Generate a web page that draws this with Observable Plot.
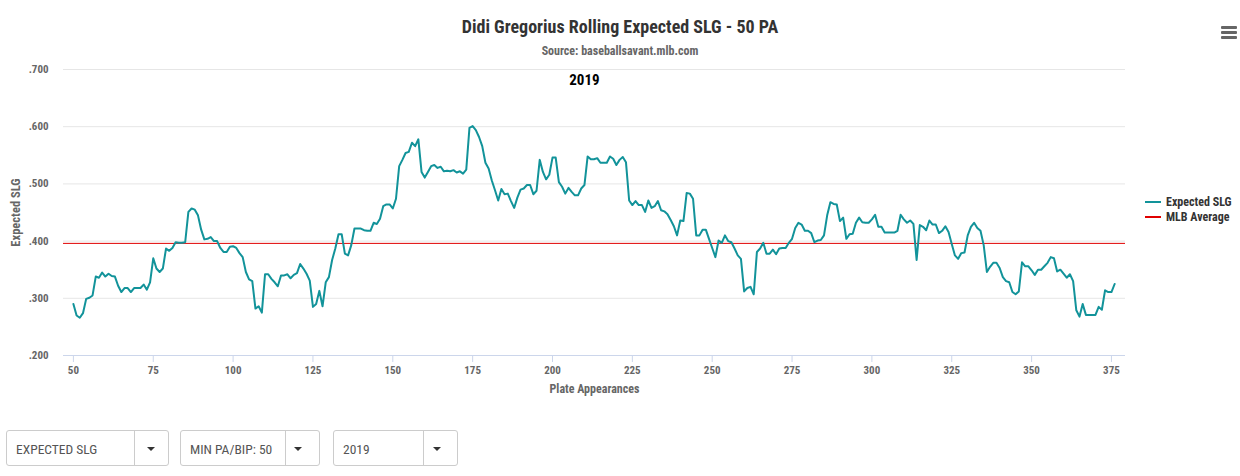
<!DOCTYPE html>
<html>
<head>
<meta charset="utf-8">
<script src="https://cdn.jsdelivr.net/npm/d3@7"></script>
<script src="https://cdn.jsdelivr.net/npm/@observablehq/plot@0.6"></script>
<style>
  html, body { margin: 0; padding: 0; background: #fff; }
  body { width: 1240px; height: 476px; overflow: hidden; }
  #wrap { position: relative; width: 1240px; height: 476px;
    font-family: "Roboto Condensed", "Liberation Sans Narrow", "DejaVu Sans Condensed", Roboto, sans-serif; font-stretch: condensed; }
  .abs { position: absolute; }
  #title { top: 16px; left: 0; width: 1240px; text-align: center; font-size: 18px; line-height: 21px; font-weight: bold; color: #333; }
  #subtitle { top: 44px; left: 0; width: 1240px; text-align: center; font-size: 12px; line-height: 14px; font-weight: bold; color: #666; }
  #chart { top: 58px; left: 0; }
  .leg { left: 1145px; font-size: 12px; font-weight: bold; color: #333; line-height: 14px; }
  .leg .sw { display: inline-block; width: 16px; height: 2px; vertical-align: middle; margin-right: 5px; position: relative; top: -1px; }
  #menu { left: 1221px; top: 26px; width: 16px; }
  #menu div { height: 2.5px; background: #666; margin-bottom: 2.5px; border-radius: 1px; }
  .sel { top: 430px; height: 36px; border: 1px solid #ccc; border-radius: 3px; box-sizing: border-box;
    font-size: 13.5px; color: #555; line-height: 36px; }
  .sel .lbl { position: absolute; left: 9px; top: 0; }
  .sel .div { position: absolute; top: 0; bottom: 0; border-left: 1px solid #ccc; }
  .sel .car { position: absolute; top: 16px; width: 0; height: 0; border-left: 4.5px solid transparent; border-right: 4.5px solid transparent; border-top: 4.5px solid #333; }
</style>
</head>
<body>
<div id="wrap">
  <div id="title" class="abs">Didi Gregorius Rolling Expected SLG - 50 PA</div>
  <div id="subtitle" class="abs">Source: baseballsavant.mlb.com</div>
  <div id="chart" class="abs"></div>
  <div class="abs leg" style="top:195px"><span class="sw" style="background:#12939a"></span>Expected SLG</div>
  <div class="abs leg" style="top:210px"><span class="sw" style="background:#e00000"></span>MLB Average</div>
  <div id="menu" class="abs"><div></div><div></div><div></div></div>
  <div class="abs sel" style="left:6px;width:163px"><span class="lbl">EXPECTED SLG</span><span class="div" style="left:127px"></span><span class="car" style="left:140px"></span></div>
  <div class="abs sel" style="left:180px;width:140px"><span class="lbl">MIN PA/BIP: 50</span><span class="div" style="left:104px"></span><span class="car" style="left:113px"></span></div>
  <div class="abs sel" style="left:333px;width:125px"><span class="lbl">2019</span><span class="div" style="left:89px"></span><span class="car" style="left:99px"></span></div>
</div>
<script>
const firstPA = 50;
const xslg = [
  .290,.270,.266,.274,.299,.301,.305,.338,.336,.345, // 50-59
  .338,.343,.339,.338,.322,.311,.318,.318,.311,.318, // 60-69
  .318,.318,.324,.315,.328,.370,.352,.346,.352,.387, // 70-79
  .383,.388,.398,.397,.397,.398,.451,.457,.455,.445, // 80-89
  .420,.403,.404,.407,.400,.400,.388,.381,.381,.390, // 90-99
  .391,.388,.379,.372,.346,.333,.330,.282,.286,.275, // 100-109
  .342,.342,.334,.328,.321,.340,.340,.342,.335,.341, // 110-119
  .344,.360,.352,.343,.331,.285,.290,.313,.286,.328, // 120-129
  .337,.367,.387,.412,.412,.378,.375,.393,.422,.422, // 130-139
  .422,.419,.418,.418,.432,.430,.439,.461,.464,.464, // 140-149
  .457,.474,.531,.542,.554,.556,.572,.566,.578,.521, // 150-159
  .511,.521,.531,.533,.528,.530,.522,.523,.522,.524, // 160-169
  .520,.522,.518,.525,.598,.601,.594,.582,.566,.537, // 170-179
  .527,.506,.489,.471,.491,.482,.483,.470,.458,.476, // 180-189
  .490,.492,.498,.498,.482,.488,.542,.521,.508,.516, // 190-199
  .546,.546,.503,.495,.483,.493,.486,.480,.480,.492, // 200-209
  .498,.548,.543,.543,.545,.537,.537,.537,.548,.544, // 210-219
  .533,.542,.547,.538,.471,.463,.470,.463,.463,.451, // 220-229
  .471,.458,.461,.470,.454,.452,.447,.437,.426,.410, // 230-239
  .436,.435,.484,.483,.474,.410,.410,.420,.420,.404, // 240-249
  .388,.372,.401,.397,.410,.400,.398,.387,.375,.369, // 250-259
  .312,.318,.320,.307,.381,.387,.397,.378,.378,.385, // 260-269
  .377,.387,.388,.388,.397,.404,.423,.432,.429,.418, // 270-279
  .418,.414,.398,.401,.402,.410,.445,.468,.465,.464, // 280-289
  .435,.441,.404,.412,.413,.432,.441,.433,.432,.432, // 290-299
  .438,.446,.425,.425,.415,.415,.415,.415,.418,.446, // 300-309
  .438,.432,.436,.430,.367,.428,.425,.419,.436,.429, // 310-319
  .429,.414,.418,.426,.416,.395,.375,.369,.379,.380, // 320-329
  .410,.425,.432,.423,.418,.393,.346,.355,.362,.362, // 330-339
  .353,.337,.330,.328,.311,.307,.312,.363,.356,.356, // 340-349
  .349,.341,.350,.350,.356,.362,.372,.370,.347,.350, // 350-359
  .343,.336,.342,.330,.279,.268,.290,.271,.271,.271, // 360-369
  .271,.285,.280,.314,.311,.311,.325                 // 370-376
];
const mlbAverage = 0.396;
const xTicks = [50, 75, 100, 125, 150, 175, 200, 225, 250, 275, 300, 325, 350, 375];
const yTicks = [0.2, 0.3, 0.4, 0.5, 0.6, 0.7];
const seasonLabel = [{pa: 210, text: "2019"}];

const data = xslg.map((v, i) => ({pa: firstPA + i, v}));
const fmtY = d => d3.format(".3f")(d).replace(/^0/, "");

const chart = Plot.plot({
  width: 1240,
  height: 372,
  marginTop: 11,
  marginLeft: 63,
  marginRight: 115,
  marginBottom: 75,
  style: {fontFamily: '"Roboto Condensed", "Liberation Sans Narrow", "DejaVu Sans Condensed", Roboto, sans-serif', fontSize: "11px", fontWeight: "bold", color: "#666", background: "#fff", fontStretch: "condensed"},
  x: {domain: [46.9, 379.4]},
  y: {domain: [0.2, 0.7]},
  marks: [
    Plot.gridY(yTicks.filter(d => d > 0.2), {stroke: "#e6e6e6", strokeOpacity: 1}),
    Plot.axisY(yTicks, {tickSize: 0, tickPadding: 15, tickFormat: fmtY, label: null, fill: "#666", fontWeight: "bold"}),
    Plot.axisX(xTicks, {tickSize: 7, tickPadding: 4, stroke: "#ccd6eb", label: null, fill: "#666", fontWeight: "bold"}),
    Plot.ruleY([0.2], {stroke: "#ccd6eb"}),
    Plot.text(["Expected SLG"], {frameAnchor: "left", textAnchor: "middle", rotate: -90, dx: -48, fill: "#666", fontWeight: "bold", fontSize: 12.5}),
    Plot.text(["Plate Appearances"], {frameAnchor: "bottom", dy: 37, fill: "#666", fontWeight: "bold", fontSize: 12}),
    Plot.ruleY([mlbAverage], {stroke: "#e00000", strokeWidth: 1}),
    Plot.line(data, {x: "pa", y: "v", stroke: "#12939a", strokeWidth: 2, strokeLinejoin: "round"}),
    Plot.text(seasonLabel, {x: "pa", text: "text", frameAnchor: "top", dy: 5, fill: "#000", fontWeight: "bold", fontSize: 15})
  ]
});
document.getElementById("chart").appendChild(chart);
</script>
</body>
</html>
